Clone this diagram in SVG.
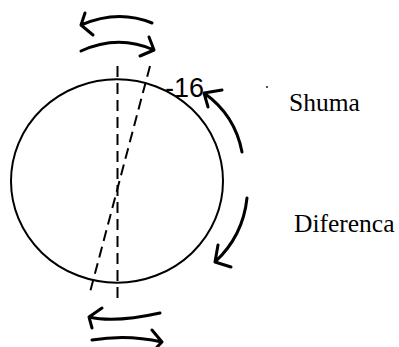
<svg xmlns="http://www.w3.org/2000/svg" width="399" height="347" viewBox="0 0 399 347">
<style>
.ln{fill:none;stroke:#000;stroke-linecap:round;stroke-linejoin:round}
.arr{stroke-width:3}
.dash{stroke-width:2;stroke-dasharray:11 6;stroke-linecap:butt}
.serif{font-family:"Liberation Serif","Times New Roman",serif;font-size:25.5px;fill:#000}
.sans{font-family:"Liberation Sans",Arial,sans-serif;font-size:27px;fill:#000}
</style>
<rect width="399" height="347" fill="#fff"/>
<g id="circle">
<ellipse class="ln" cx="117" cy="181" rx="106" ry="101.7" stroke-width="2"/>
</g>
<g id="connectors">
<line class="ln dash" x1="117.5" y1="66" x2="117.5" y2="303"/>
<line class="ln dash" x1="150" y1="66" x2="89" y2="296"/>
<path class="ln arr" d="M152,23 Q118,9 81,25 M85,13 L81,25 L93,35"/>
<path class="ln arr" d="M81,51 Q118,34 154,50 M149,37 L154,50 L140,56"/>
<path class="ln arr" d="M160,313 Q115,323 89,317 M102,308 L89,317 L92,328"/>
<path class="ln arr" d="M92,340 Q127,334 162,342 M152,330 L162,342 L157,347"/>
<path class="ln arr" d="M242,152 Q235,115 204,93 M222,90 L204,93 L208,107"/>
<path class="ln arr" d="M247,198 Q243,236 215,262 M218,245 L215,262 L231,267"/>
</g>
<g id="labels">
<text class="sans" x="165" y="97">-16</text>
<circle cx="267" cy="87" r="0.9" fill="#000"/>
<text class="serif" x="289" y="111">Shuma</text>
<text class="serif" x="294" y="232">Diferenca</text>
</g>
</svg>
